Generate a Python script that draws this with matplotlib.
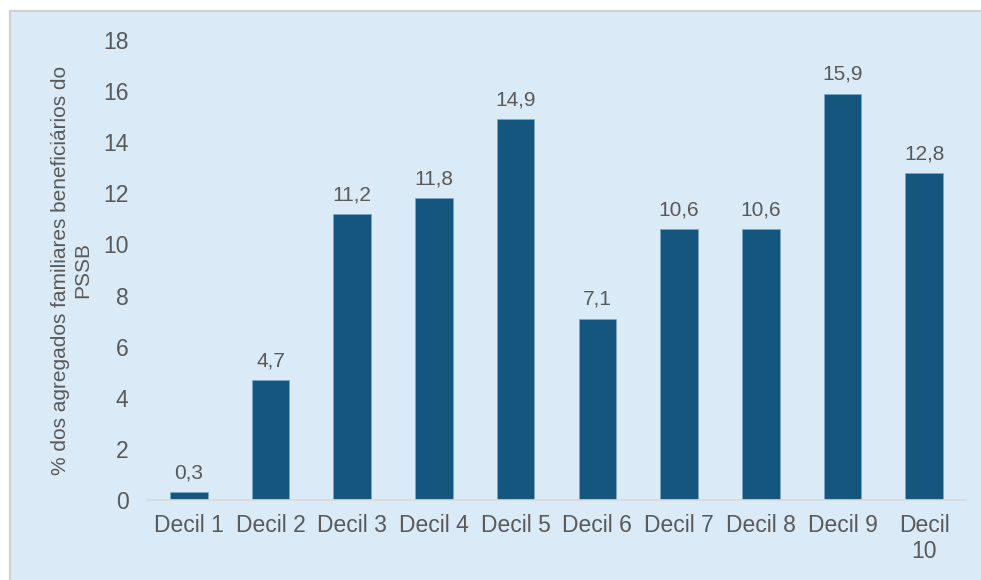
import matplotlib.pyplot as plt
from matplotlib.patches import Rectangle

deciles = ["Decil 1", "Decil 2", "Decil 3", "Decil 4", "Decil 5",
           "Decil 6", "Decil 7", "Decil 8", "Decil 9", "Decil\n10"]
valores = [0.3, 4.7, 11.2, 11.8, 14.9, 7.1, 10.6, 10.6, 15.9, 12.8]

fundo = "#DAEAF7"
barra = "#15567E"
texto = "#595959"

plt.rcParams['font.family'] = ['Liberation Sans', 'DejaVu Sans']

fig = plt.figure(figsize=(9.81, 5.8), dpi=100)
fig.patch.set_facecolor("white")
# painel de fundo com borda cinzenta
fig.patches.append(Rectangle((10 / 981, -0.01), 1.0, 1.01 - 11 / 580, transform=fig.transFigure,
                             facecolor=fundo, edgecolor="#D0D0D0", linewidth=1.5, zorder=-10))

ax = fig.add_axes([148 / 981, 1 - 500 / 580, (965 - 148) / 981, 460 / 580])
ax.set_facecolor("none")
ax.set_zorder(5)

x = range(len(valores))
ax.bar(x, valores, width=0.46, color=barra, edgecolor="#7FA7C4", linewidth=0.5, zorder=2)
for xi, v in zip(x, valores):
    ax.annotate(f"{v:.1f}".replace(".", ","), (xi, v), xytext=(0, 7),
                textcoords="offset points", ha="center", va="bottom",
                fontsize=15, color=texto)

ax.set_xlim(-0.5, 9.5)
ax.set_ylim(0, 18)
ax.set_yticks(range(0, 19, 2))
ax.set_xticks(list(x))
ax.set_xticklabels(deciles)
ax.tick_params(axis="both", length=0, labelsize=16.5, colors=texto)
ax.tick_params(axis="y", pad=14)
ax.tick_params(axis="x", pad=10)

for s in ["top", "right", "left"]:
    ax.spines[s].set_visible(False)
ax.spines["bottom"].set_color("#D9D9D9")
ax.spines["bottom"].set_linewidth(1.2)

ax.set_ylabel("% dos agregados familiares beneficiários do\nPSSB", fontsize=15,
              color=texto, labelpad=8)

fig.savefig("out.png", dpi=100, facecolor=fig.get_facecolor())
